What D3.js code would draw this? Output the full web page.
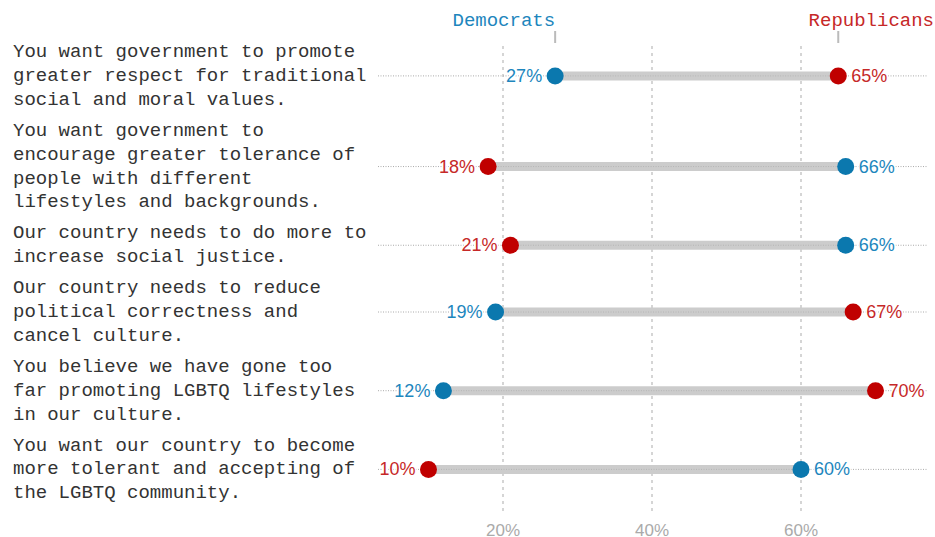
<!DOCTYPE html>
<html>
<head>
<meta charset="utf-8">
<script src="https://cdn.jsdelivr.net/npm/d3@7"></script>
<style>
    body { margin: 0; background: #fff; }
    .qLabel { font-family: "Liberation Mono", monospace; font-size: 19px; fill: #333; }
    .valLabel { font-family: "Liberation Sans", Arial, sans-serif; font-size: 18px; }
    .axisLabel { font-family: "Liberation Sans", Arial, sans-serif; font-size: 17px; fill: #aaa; }
    .header { font-family: "Liberation Mono", monospace; font-size: 19px; }
</style>
</head>
<body>
<div class="dumbbell"></div>
<script>
// #region Data
// each question is split into the lines as shown in the chart
const questions = [
    ["You want government to promote", "greater respect for traditional", "social and moral values."],
    ["You want government to", "encourage greater tolerance of", "people with different", "lifestyles and backgrounds."],
    ["Our country needs to do more to", "increase social justice."],
    ["Our country needs to reduce", "political correctness and", "cancel culture."],
    ["You believe we have gone too", "far promoting LGBTQ lifestyles", "in our culture."],
    ["You want our country to become", "more tolerant and accepting of", "the LGBTQ community."]
];
const democrats = [27, 66, 66, 19, 12, 60];
const republicans = [65, 18, 21, 67, 70, 10];
const seriesNames = ["Democrats", "Republicans"];
const xTicks = [20, 40, 60];
// #endregion

const width = 935, height = 537;
const blue = "#0b78ae", red = "#c00000";
const blueText = "#1d86bd", redText = "#c62828";

const svg = d3.select(".dumbbell")
    .append("svg")
    .attr("width", width)
    .attr("height", height);

// 0% sits at x=354, 20% at x=503
const xScale = d3.scaleLinear()
    .domain([0, 20])
    .range([354, 503]);

// #region Row layout from line counts
const lineHeight = 23.9;
const blockGap = 7;
let rows = [];
let base = 57;
questions.forEach((lines, i) => {
    let first = base;
    let last = base + (lines.length - 1) * lineHeight;
    rows.push({ lines: lines, first: first, y: (first + last) / 2 - 5, dem: democrats[i], rep: republicans[i] });
    base = last + lineHeight + blockGap;
});
// #endregion

// #region Grid
svg.append("g")
    .attr("class", "grid")
    .selectAll("line")
    .data(xTicks)
    .enter()
    .append("line")
    .attr("x1", d => xScale(d))
    .attr("x2", d => xScale(d))
    .attr("y1", 46)
    .attr("y2", 512)
    .attr("stroke", "#c8c8c8")
    .attr("stroke-width", 1.5)
    .attr("stroke-dasharray", "3,4");

svg.append("g")
    .selectAll("text")
    .data(xTicks)
    .enter()
    .append("text")
    .attr("class", "axisLabel")
    .attr("x", d => xScale(d))
    .attr("y", 536)
    .attr("text-anchor", "middle")
    .text(d => d + "%");
// #endregion

// #region Headers
const headerX = [xScale(democrats[0]), xScale(republicans[0])];
svg.append("g")
    .selectAll("line")
    .data(headerX)
    .enter()
    .append("line")
    .attr("x1", d => d)
    .attr("x2", d => d)
    .attr("y1", 31)
    .attr("y2", 43)
    .attr("stroke", "#bbb")
    .attr("stroke-width", 2);

svg.append("text")
    .attr("class", "header")
    .attr("x", headerX[0])
    .attr("y", 26)
    .attr("text-anchor", "end")
    .attr("fill", blueText)
    .text(seriesNames[0]);

svg.append("text")
    .attr("class", "header")
    .attr("x", width - 1)
    .attr("y", 26)
    .attr("text-anchor", "end")
    .attr("fill", redText)
    .text(seriesNames[1]);
// #endregion

// #region Rows
const gRows = svg.append("g").attr("class", "rows");
const row = gRows.selectAll(".row")
    .data(rows)
    .enter()
    .append("g")
    .attr("class", "row");

row.append("text")
    .attr("class", "qLabel")
    .selectAll("tspan")
    .data(d => d.lines.map((l, j) => ({ text: l, y: d.first + j * lineHeight })))
    .enter()
    .append("tspan")
    .attr("x", 13)
    .attr("y", d => d.y)
    .text(d => d.text);

row.append("line")
    .attr("x1", 378)
    .attr("x2", 928)
    .attr("y1", d => d.y)
    .attr("y2", d => d.y)
    .attr("stroke", "#aaa")
    .attr("stroke-width", 1)
    .attr("stroke-dasharray", "1,1.5");

row.append("line")
    .attr("x1", d => xScale(Math.min(d.dem, d.rep)))
    .attr("x2", d => xScale(Math.max(d.dem, d.rep)))
    .attr("y1", d => d.y)
    .attr("y2", d => d.y)
    .attr("stroke", "#cccccc")
    .attr("stroke-width", 9);

// redraw dotted line on top of the bar, faintly
row.append("line")
    .attr("x1", d => xScale(Math.min(d.dem, d.rep)))
    .attr("x2", d => xScale(Math.max(d.dem, d.rep)))
    .attr("y1", d => d.y)
    .attr("y2", d => d.y)
    .attr("stroke", "#b5b5b5")
    .attr("stroke-width", 1)
    .attr("stroke-dasharray", "1,1.5");

function addSeries(key, dotColor, textColor) {
    row.append("circle")
        .attr("cx", d => xScale(d[key]))
        .attr("cy", d => d.y)
        .attr("r", 8.5)
        .attr("fill", dotColor);

    row.append("text")
        .attr("class", "valLabel")
        .attr("x", d => {
            let other = key == "dem" ? d.rep : d.dem;
            return d[key] < other ? xScale(d[key]) - 13 : xScale(d[key]) + 13;
        })
        .attr("y", d => d.y + 6)
        .attr("text-anchor", d => {
            let other = key == "dem" ? d.rep : d.dem;
            return d[key] < other ? "end" : "start";
        })
        .attr("fill", textColor)
        .attr("stroke", "#fff")
        .attr("stroke-width", 3)
        .attr("paint-order", "stroke")
        .text(d => d[key] + "%");
}
addSeries("dem", blue, blueText);
addSeries("rep", red, redText);
// #endregion
</script>
</body>
</html>
